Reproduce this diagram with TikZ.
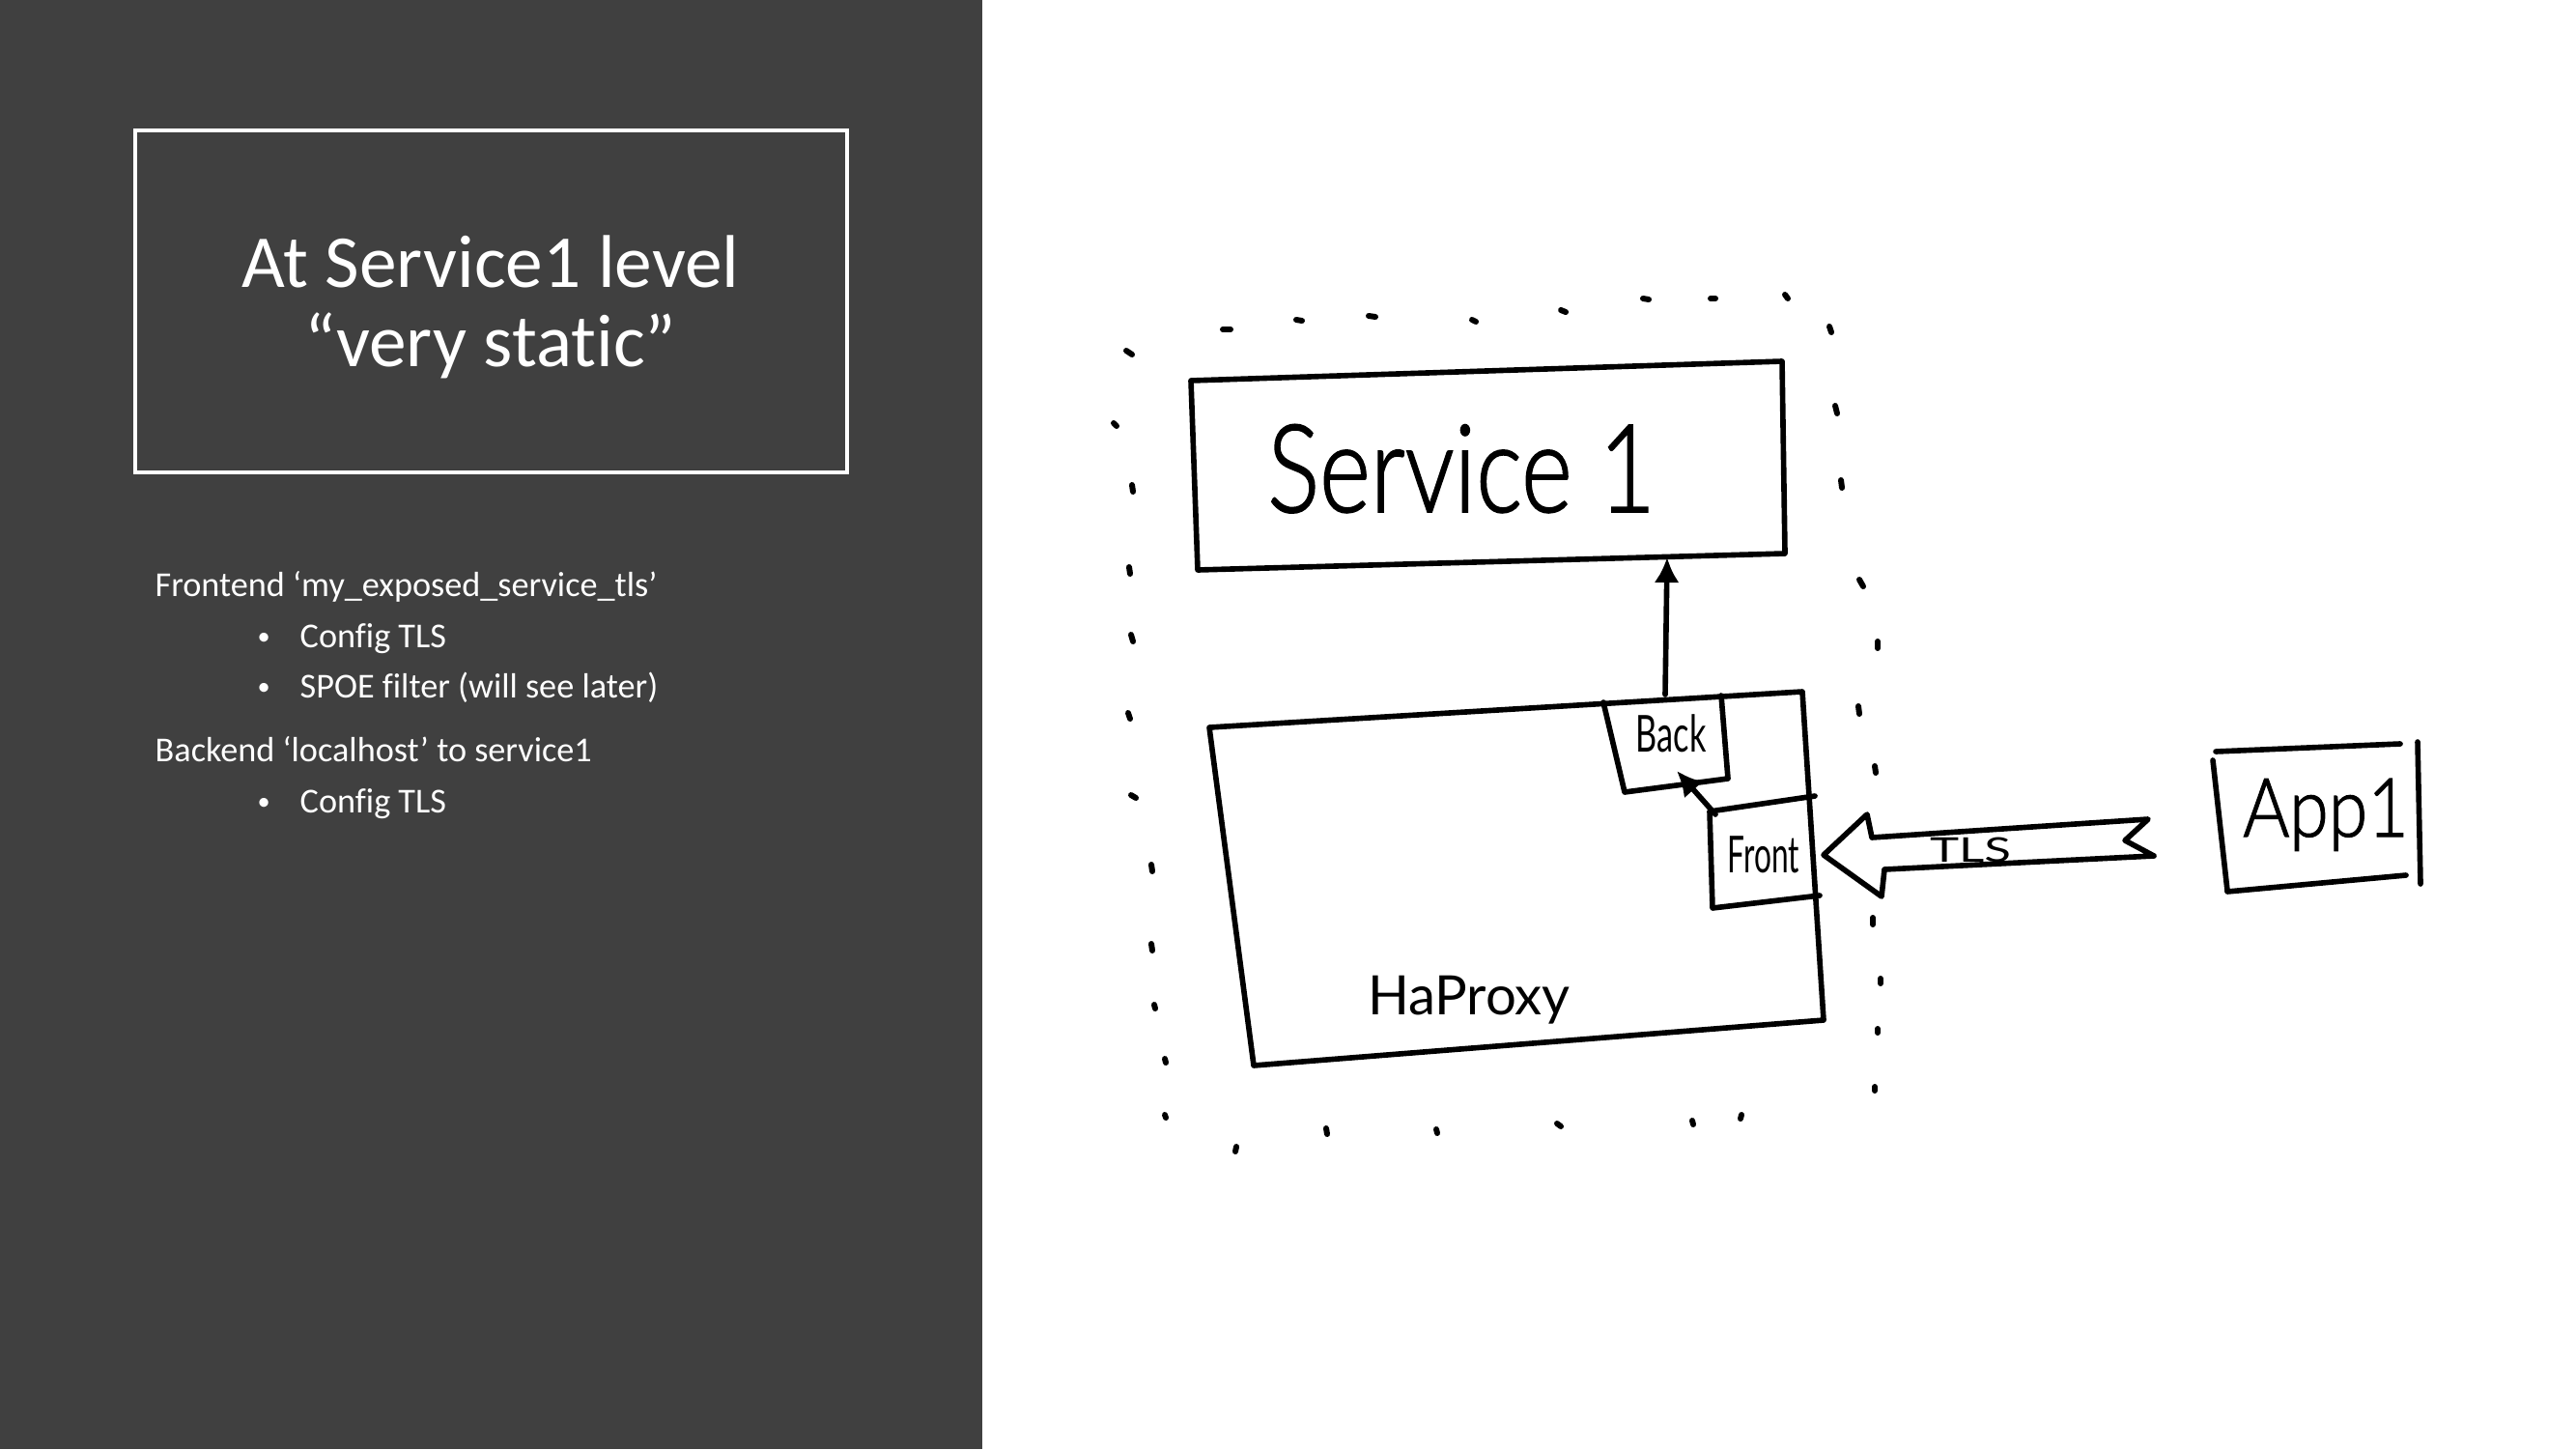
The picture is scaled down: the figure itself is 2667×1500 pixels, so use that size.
\documentclass[tikz,border=0pt]{standalone}
\usepackage{fontspec}
\usepackage{graphicx}
\setmainfont{Carlito}[Ligatures=NoCommon]
\IfFontExistsTF{Lato Light}{\newfontfamily\handfont{Lato Light}[FakeBold=1.5]}{\newfontfamily\handfont{Fira Sans}}
\newfontfamily\handsmall{Lato}
\usetikzlibrary{arrows.meta}
\definecolor{panelgray}{HTML}{404040}
\newcommand\squash[2]{\scalebox{#1}[1]{#2}}
\newcommand\dotmark{\raisebox{0.7pt}{\fontsize{7.5}{9}\selectfont •}}
\begin{document}
\begin{tikzpicture}[x=0.01cm,y=-0.01cm,
    sketch/.style={line width=1.6pt,line join=round,line cap=round},
    speck/.style={line width=1.7pt,line cap=round},
    slidetext/.style={text=white,inner sep=0pt,anchor=base west,font=\fontsize{10.3}{12}\selectfont},
    titletext/.style={text=white,inner sep=0pt,anchor=base,font=\fontsize{22}{26}\selectfont},
    hand/.style={inner sep=0pt,anchor=base},
    tip/.style={-{Latex[length=2.6mm,width=2.6mm]}}]
  \useasboundingbox (0,0) rectangle (2667,1500);
  \fill[white] (0,0) rectangle (2667,1500);
  \fill[panelgray] (0,0) rectangle (1017,1500);
  \draw[white,line width=1.1pt] (140,135) rectangle (877,489);
  \node[titletext] (title1) at (508,297) {At Service1 level};
  \node[titletext] (title2) at (508,379) {“very static”};
  \node[slidetext] (fe) at (160,617) {Frontend ‘my\_exposed\_service\_tls’};
  \node[slidetext] (fe1dot) at (266,670) {\dotmark};
  \node[slidetext] (fe1) at (310,670) {Config TLS};
  \node[slidetext] (fe2dot) at (266,722) {\dotmark};
  \node[slidetext] (fe2) at (310,722) {SPOE filter (will see later)};
  \node[slidetext] (be) at (160,788) {Backend ‘localhost’ to service1};
  \node[slidetext] (be1dot) at (266,841) {\dotmark};
  \node[slidetext] (be1) at (310,841) {Config TLS};

  \foreach \x/\y/\dx/\dy in {1166/363/6/4, 1266/341/8/0, 1342/331/6/1, 1417/327/7/1,
      1524/331/4/2, 1616/321/5/2, 1701/309/6/1, 1771/309/5/0, 1848/305/3/4, 1894/338/2/6,
      1153/438/3/3, 1172/502/1/7, 1169/587/1/7, 1171/657/2/7, 1168/738/2/6, 1171/823/5/3,
      1192/895/1/7, 1192/977/1/7, 1195/1040/1/4, 1206/1096/1/4, 1206/1154/1/3,
      1280/1187/-1/5, 1373/1168/1/6, 1487/1169/1/4, 1612/1163/4/3, 1752/1160/1/4, 1803/1154/-1/4,
      1900/420/2/8, 1906/497/1/8, 1925/600/4/7, 1944/664/0/7, 1924/731/1/8, 1941/793/1/7,
      1939/950/0/7, 1947/1013/0/5, 1944/1065/0/4, 1941/1125/0/4}
    \draw[speck] (\x,\y) -- ++(\dx,\dy);

  \draw[sketch] (1233,394) -- (1845,374) -- (1848,573) -- (1240,590) -- cycle;
  \node[hand,font=\handfont\fontsize{36}{36}\selectfont] (svc) at (1513,530) {\squash{0.8}{Service 1}};

  \draw[sketch] (1252,753) -- (1866,716) -- (1888,1056) -- (1298,1103) -- cycle;
  \node[hand,font=\handsmall\fontsize{16}{16}\selectfont] (haproxy) at (1521,1050) {HaProxy};

  \draw[sketch] (1660,727) -- (1682,820) -- (1789,806) -- (1782,720);
  \node[hand,font=\handsmall\fontsize{15}{15}\selectfont] (back) at (1730,778) {\squash{0.65}{Back}};

  \draw[sketch] (1879,824) -- (1770,840) -- (1773,940) -- (1884,927);
  \node[hand,font=\handsmall\fontsize{15}{15}\selectfont] (front) at (1826,903) {\squash{0.6}{Front}};

  \coordinate (backtop) at (1724,719);
  \coordinate (svcbot) at (1726,577);
  \coordinate (frontcorner) at (1776,843);
  \coordinate (backbot) at (1736,798);
  \draw[sketch,tip] (backtop) -- (svcbot);
  \draw[sketch,tip] (frontcorner) -- (backbot);

  \coordinate (tlstip) at (1888,885);
  \draw[sketch] (tlstip) -- (1933,843) -- (1938,867) -- (2224,848) -- (2200,870)
    -- (2230,886) -- (1951,900) -- (1948,928) -- cycle;
  \node[hand,font=\handsmall\fontsize{10}{10}\selectfont] (tls) at (2040,892) {\squash{1.45}{TLS}};

  \draw[sketch] (2294,778) -- (2485,770);
  \draw[sketch] (2503,768) -- (2506,915);
  \draw[sketch] (2306,923) -- (2491,906);
  \draw[sketch] (2291,787) -- (2306,922);
  \node[hand,font=\handfont\fontsize{24}{24}\selectfont] (app) at (2408,866) {\squash{0.87}{App1}};
\end{tikzpicture}
\end{document}
